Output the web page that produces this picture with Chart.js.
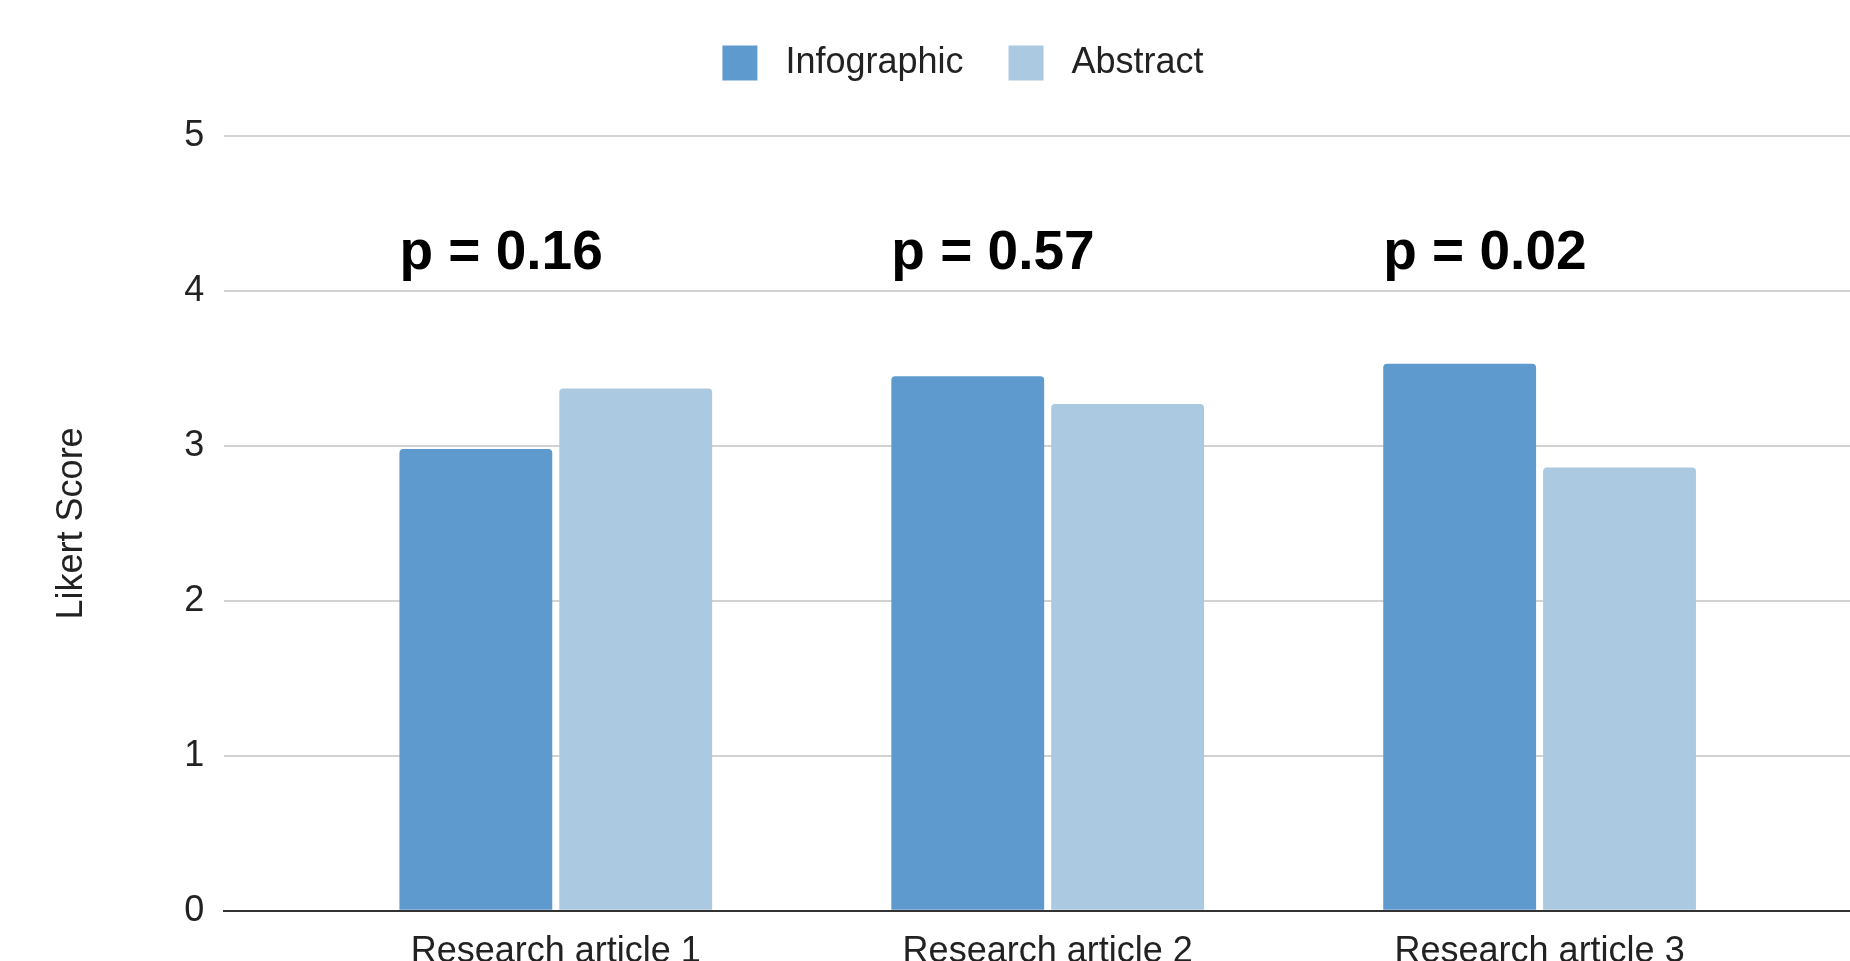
<!DOCTYPE html>
<html>
<head>
<meta charset="utf-8">
<title>Likert Score: Infographic vs Abstract</title>
<script src="https://cdn.jsdelivr.net/npm/chart.js@4.4.1/dist/chart.umd.min.js"></script>
<style>
  html, body { margin: 0; padding: 0; background: #fff; overflow: hidden; }
  #wrap { position: relative; width: 1850px; height: 985px; }
</style>
</head>
<body>
<div id="wrap"><canvas id="likertChart"></canvas></div>
<script>
const categories = ['Research article 1', 'Research article 2', 'Research article 3'];
const infographic = [2.98, 3.45, 3.53];
const abstractScores = [3.37, 3.27, 2.86];
const pValues = ['0.16', '0.57', '0.02'];
const yTicks = [0, 1, 2, 3, 4, 5];

const FONT = '"Liberation Sans", Arial, Helvetica, sans-serif';

// legend sits lower and a bit right of the canvas centre, like the original
const legendNudge = {
  id: 'legendNudge',
  beforeInit(chart) {
    const fit = chart.legend.fit;
    chart.legend.fit = function () {
      fit.call(this);
      this.height += 45;
    };
  },
  afterLayout(chart) {
    chart.legend.left += 26;
  }
};

// p-value annotations above each pair of bars
const pLabels = {
  id: 'pLabels',
  afterDatasetsDraw(chart) {
    const ctx = chart.ctx;
    const bars = chart.getDatasetMeta(0).data;
    const y = chart.scales.y.getPixelForValue(4.24);
    ctx.save();
    ctx.font = 'bold 55px ' + FONT;
    ctx.fillStyle = '#000';
    ctx.textAlign = 'left';
    ctx.textBaseline = 'middle';
    bars.forEach((bar, i) => {
      ctx.fillText('p = ' + pValues[i], bar.x - bar.width / 2, y);
    });
    ctx.restore();
  }
};

function createChart() {
  const ctx = document.getElementById('likertChart').getContext('2d');
  new Chart(ctx, {
    type: 'bar',
    data: {
      datasets: [{
        label: 'Infographic',
        data: infographic.map((v, i) => ({ x: i, y: v })),
        backgroundColor: '#5e9ace',
        borderRadius: 4,
        categoryPercentage: 0.65,
        barPercentage: 0.956
      }, {
        label: 'Abstract',
        data: abstractScores.map((v, i) => ({ x: i, y: v })),
        backgroundColor: '#abc9e0',
        borderRadius: 4,
        categoryPercentage: 0.65,
        barPercentage: 0.956
      }]
    },
    options: {
      responsive: true,
      maintainAspectRatio: false,
      animation: false,
      layout: { padding: { left: 50, right: 0, top: 0, bottom: 0 } },
      plugins: {
        tooltip: { enabled: false },
        legend: {
          position: 'top',
          labels: {
            boxWidth: 35,
            boxHeight: 35,
            padding: 45,
            color: '#222',
            font: { family: FONT, size: 36 },
            // a little more room between swatch and text
            generateLabels: chart => Chart.defaults.plugins.legend.labels
              .generateLabels(chart)
              .map(item => ({ ...item, text: ' ' + item.text }))
          }
        }
      },
      scales: {
        x: {
          type: 'linear',
          min: -0.674,
          max: 2.631,
          offset: false,
          grid: { display: false },
          border: { display: true, color: '#333', width: 2 },
          afterBuildTicks: scale => {
            scale.ticks = categories.map((_, i) => ({ value: i }));
          },
          ticks: {
            padding: 11.5,
            color: '#222',
            font: { family: FONT, size: 36 },
            maxRotation: 0,
            autoSkip: false,
            callback: value => categories[value]
          }
        },
        y: {
          min: 0,
          max: 5,
          afterBuildTicks: scale => {
            scale.ticks = yTicks.map(v => ({ value: v }));
          },
          grid: {
            drawTicks: false,
            lineWidth: 2,
            color: c => (c.tick && c.tick.value === 0 ? '#333' : '#d2d2d2')
          },
          border: { display: false },
          ticks: {
            padding: 20,
            color: '#222',
            font: { family: FONT, size: 36 }
          },
          title: {
            display: true,
            text: 'Likert Score',
            color: '#222',
            padding: { top: 0, bottom: 71 },
            font: { family: FONT, size: 36 }
          }
        }
      }
    },
    plugins: [legendNudge, pLabels]
  });
}

document.addEventListener('DOMContentLoaded', createChart);
</script>
</body>
</html>
